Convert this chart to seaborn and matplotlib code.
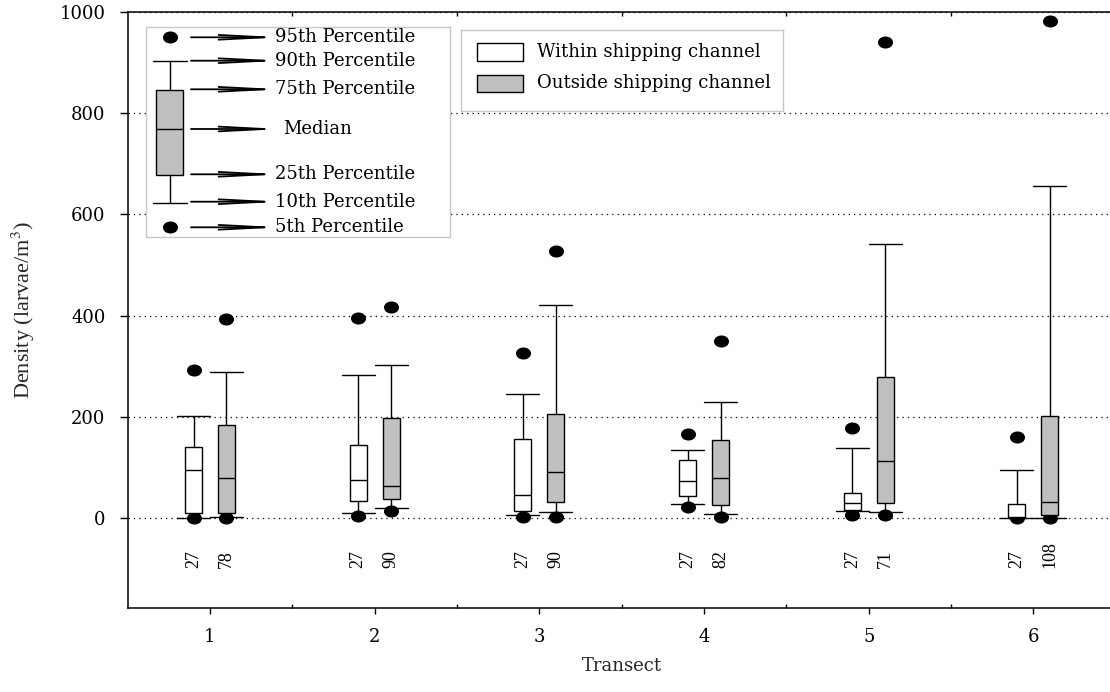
import numpy as np
import pandas as pd
import matplotlib
matplotlib.use("Agg")
import matplotlib.pyplot as plt
from matplotlib.path import Path
from matplotlib.markers import MarkerStyle
from matplotlib.patches import Rectangle
from matplotlib.transforms import Affine2D
from matplotlib.ticker import FixedLocator, NullFormatter
import seaborn as sns

# ---------------- data ----------------
transects = ["1", "2", "3", "4", "5", "6"]
channels = ["Within shipping channel", "Outside shipping channel"]

within_p5 = [0, 5, 3, 22, 7, 0]
within_p10 = [0, 10, 6, 27, 15, 0]
within_p25 = [11, 33, 15, 43, 16, 1]
within_med = [95, 76, 45, 74, 29, 2]
within_p75 = [141, 144, 157, 115, 49, 27]
within_p90 = [201, 282, 245, 134, 138, 95]
within_p95 = [293, 395, 326, 166, 178, 160]
within_n = [27, 27, 27, 27, 27, 27]

outside_p5 = [1, 14, 3, 3, 7, 0]
outside_p10 = [3, 20, 12, 9, 13, 0]
outside_p25 = [10, 37, 31, 26, 30, 6]
outside_med = [79, 64, 91, 79, 113, 31]
outside_p75 = [185, 197, 206, 155, 278, 202]
outside_p90 = [288, 303, 421, 230, 541, 656]
outside_p95 = [393, 418, 527, 350, 940, 983]
outside_n = [78, 90, 90, 82, 71, 108]

y_ticks = [0, 200, 400, 600, 800, 1000]
key_labels = ["95th Percentile", "90th Percentile", "75th Percentile", "Median",
              "25th Percentile", "10th Percentile", "5th Percentile"]

stats = {
    channels[0]: dict(p5=within_p5, p10=within_p10, p25=within_p25, med=within_med,
                      p75=within_p75, p90=within_p90, p95=within_p95, n=within_n),
    channels[1]: dict(p5=outside_p5, p10=outside_p10, p25=outside_p25, med=outside_med,
                      p75=outside_p75, p90=outside_p90, p95=outside_p95, n=outside_n),
}

# long-form table: each read percentile repeated so numpy percentiles
# at 10/25/50/75/90 (21 samples) give back exactly the read values
rows = []
for ch, st in stats.items():
    for i, t in enumerate(transects):
        vals = ([st["p10"][i]] * 3 + [st["p25"][i]] * 3 + [st["med"][i]] * 5
                + [st["p75"][i]] * 5 + [st["p90"][i]] * 5)
        rows += [(t, ch, v) for v in vals]
box_df = pd.DataFrame(rows, columns=["Transect", "Channel", "Density"])

dodge_off = {channels[0]: -0.1, channels[1]: 0.1}
dot_rows = []
for ch, st in stats.items():
    for i, t in enumerate(transects):
        for key in ("p5", "p95"):
            dot_rows.append((i + dodge_off[ch], st[key][i]))
dot_df = pd.DataFrame(dot_rows, columns=["pos", "Density"])

# ---------------- style ----------------
sns.set_theme(style="ticks")
plt.rcParams["font.family"] = ["DejaVu Serif"]
plt.rcParams["mathtext.fontset"] = "stix"
plt.rcParams["axes.edgecolor"] = "black"
plt.rcParams["xtick.color"] = "black"
plt.rcParams["ytick.color"] = "black"

GRAY = "#c0c0c0"
ellipse = MarkerStyle(Path.unit_circle().transformed(Affine2D().scale(1.0, 0.8)))

fig = plt.figure(figsize=(11.1, 6.92), dpi=100)
ax = fig.add_axes([0.1150, 0.1210, 0.8902, 0.8617])

sns.boxplot(data=box_df, x="Transect", y="Density", hue="Channel",
            order=transects, hue_order=channels,
            palette={channels[0]: "white", channels[1]: GRAY}, saturation=1,
            width=0.4, gap=0.485, whis=(10, 90), showfliers=False,
            linecolor="black", linewidth=1.0, capwidths=0.2, legend=False, ax=ax)

sns.scatterplot(data=dot_df, x="pos", y="Density", marker=ellipse, s=118,
                color="black", edgecolor="black", linewidth=0, zorder=1.9,
                legend=False, ax=ax)

# sample sizes
for ch, st in stats.items():
    for i, n in enumerate(st["n"]):
        ax.text(i + dodge_off[ch], -99, str(n), rotation=90, ha="center", va="bottom",
                fontsize=13, family="Liberation Serif", color="black")

ax.set_xlim(-0.5, 5.5)
ax.set_ylim(-178, 1000)
ax.set_yticks(y_ticks)
ax.set_yticklabels([str(v) for v in y_ticks])
ax.set_xticks(range(len(transects)))
ax.set_xticklabels(transects)
ax.xaxis.set_minor_locator(FixedLocator([0.5, 1.5, 2.5, 3.5, 4.5, 5.5]))
ax.xaxis.set_minor_formatter(NullFormatter())
ax.tick_params(axis="x", which="major", direction="out", length=4.5, width=1,
               bottom=True, top=False, labelsize=13, pad=9.5)
ax.tick_params(axis="x", which="minor", direction="in", length=3.2, width=1,
               bottom=True, top=True)
ax.tick_params(axis="y", which="major", direction="out", length=6, width=1,
               left=True, right=False, labelsize=13, pad=10)
ax.yaxis.grid(True, linestyle=(0, (1, 3.3)), color="black", linewidth=0.9)
ax.xaxis.grid(False)
ax.set_axisbelow(True)
for side in ("left", "bottom", "top"):
    ax.spines[side].set_visible(True)
    ax.spines[side].set_linewidth(1.1)
    ax.spines[side].set_color("black")
ax.spines["right"].set_visible(False)

ax.set_xlabel("Transect", fontsize=13, labelpad=8)
ax.set_ylabel("Density (larvae/m$^3$)", fontsize=16, family="Liberation Serif")
ax.yaxis.set_label_coords(-0.0915, 0.5)

# ---------------- percentile key (upper left) ----------------
W, H = 1110.0, 692.0
def px_axes(x0, y0, x1, y1):
    a = fig.add_axes([x0 / W, (H - y1) / H, (x1 - x0) / W, (y1 - y0) / H])
    a.set_xlim(x0, x1)
    a.set_ylim(y1, y0)
    a.set_xticks([])
    a.set_yticks([])
    a.set_facecolor("white")
    for s in a.spines.values():
        s.set_visible(True)
        s.set_color("#c8c8c8")
        s.set_linewidth(1.0)
    return a

k = px_axes(146, 27, 450, 237)
k.add_patch(Rectangle((155.7, 90), 27.6, 85, facecolor=GRAY, edgecolor="black", lw=1))
k.plot([155.7, 183.3], [129, 129], color="black", lw=1)
k.plot([169.5, 169.5], [60.7, 90], color="black", lw=1)
k.plot([169.5, 169.5], [175, 203.3], color="black", lw=1)
k.plot([153, 186.7], [60.7, 60.7], color="black", lw=1)
k.plot([153, 186.7], [203.3, 203.3], color="black", lw=1)
k.scatter([169.5, 169.5], [37.5, 226.7], marker=ellipse, s=118, color="black", lw=0)
key_y = [37.3, 60.7, 89.3, 129, 174.3, 201.7, 227.3]
for yy, lab in zip(key_y, key_labels):
    # the narrow head pulls the visible tip back by ~17 px; aim past it
    k.annotate("", xy=(282, yy), xytext=(191, yy), xycoords="data", textcoords="data",
               annotation_clip=False,
               arrowprops=dict(arrowstyle="->,head_length=3.3,head_width=0.17",
                               color="black", lw=1.3, shrinkA=0, shrinkB=0,
                               patchA=None, patchB=None, mutation_scale=10))
    k.text(283.3 if lab == "Median" else 275, yy, lab, ha="left", va="center",
           fontsize=13, color="black", zorder=5)

# ---------------- group legend (top) ----------------
g = px_axes(461, 30, 783, 111)
g.add_patch(Rectangle((476.7, 42.7), 46, 18, facecolor="white", edgecolor="black", lw=1))
g.add_patch(Rectangle((476.7, 75), 46, 16.7, facecolor=GRAY, edgecolor="black", lw=1))
g.text(536.7, 51.7, channels[0], ha="left", va="center", fontsize=13, color="black")
g.text(536.7, 83.3, channels[1], ha="left", va="center", fontsize=13, color="black")

fig.savefig("out.png", dpi=100)
